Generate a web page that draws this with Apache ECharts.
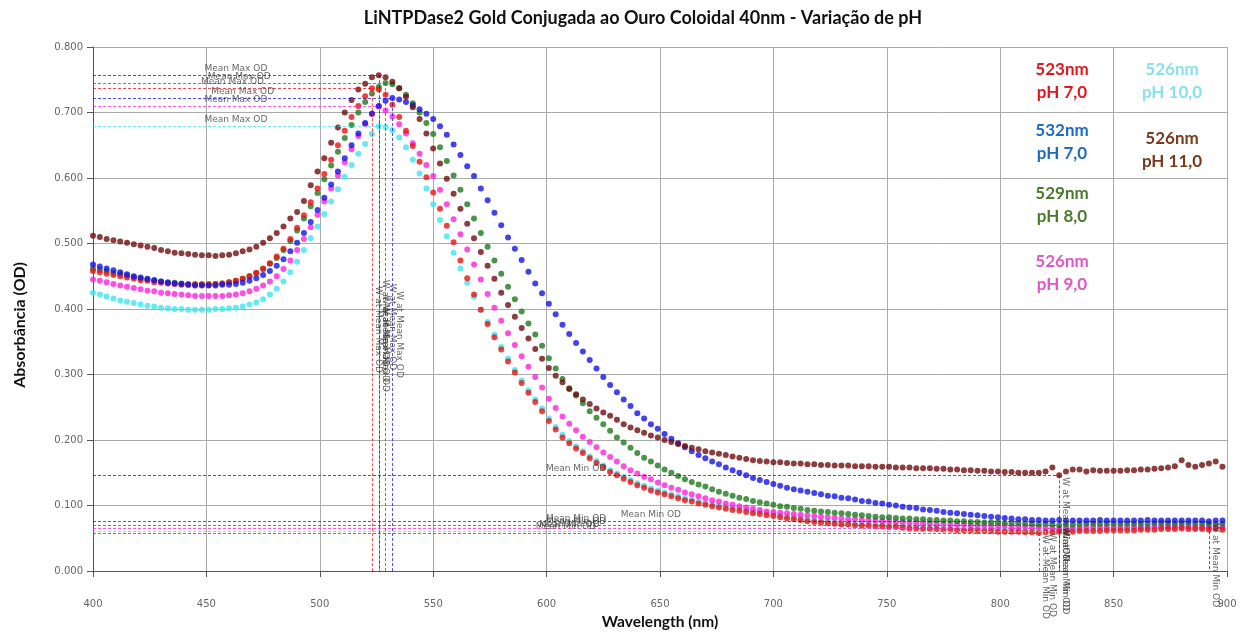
<!DOCTYPE html>
<html>
<head>
<meta charset="utf-8">
<script src="https://cdn.jsdelivr.net/npm/echarts@6/dist/echarts.min.js"></script>
<style>
html, body { margin: 0; padding: 0; background: #fff; }
#chart { width: 1247px; height: 635px; }
</style>
</head>
<body>
<div id="chart"></div>
<script>
// scan wavelengths (nm), 3 nm step
var wavelengths = [
    400,403,406,409,412,415,418,421,424,427,
    430,433,436,439,442,445,448,451,454,457,
    460,463,466,469,472,475,478,481,484,487,
    490,493,496,499,502,505,508,511,514,517,
    520,523,526,529,532,535,538,541,544,547,
    550,553,556,559,562,565,568,571,574,577,
    580,583,586,589,592,595,598,601,604,607,
    610,613,616,619,622,625,628,631,634,637,
    640,643,646,649,652,655,658,661,664,667,
    670,673,676,679,682,685,688,691,694,697,
    700,703,706,709,712,715,718,721,724,727,
    730,733,736,739,742,745,748,751,754,757,
    760,763,766,769,772,775,778,781,784,787,
    790,793,796,799,802,805,808,811,814,817,
    820,823,826,829,832,835,838,841,844,847,
    850,853,856,859,862,865,868,871,874,877,
    880,883,886,889,892,895,898
];

// absorbance, in mOD (1/1000 OD)
var ph7_523 = [
    458,456,454,452,450,448,446,444,443,441,
    440,439,438,437,437,437,437,437,438,439,
    441,443,446,450,455,462,470,480,492,507,
    524,543,563,584,606,628,650,672,693,710,
    725,737,735,727,712,693,672,649,625,601,
    578,553,527,502,474,447,422,399,377,357,
    338,320,303,287,272,258,244,229,216,204,
    195,187,180,172,165,158,151,146,141,136,
    131,127,123,120,117,114,111,108,106,103,
    101,99,97,95,93,92,90,88,87,85,
    84,82,80,79,78,76,75,74,73,72,
    71,71,70,69,69,68,68,67,67,66,
    65,65,64,64,64,63,63,62,62,62,
    61,61,61,60,60,60,60,59,59,58,
    59,59,60,60,60,61,61,61,61,62,
    62,62,62,62,63,63,63,64,64,64,
    65,64,64,64,63,64,63
];
var ph7_532 = [
    468,465,462,459,456,453,450,448,446,444,
    442,440,439,438,437,436,436,436,436,437,
    437,438,440,443,447,452,458,466,476,488,
    501,516,533,551,570,590,610,630,650,668,
    684,698,710,718,722,720,716,711,705,698,
    690,679,666,651,635,618,603,584,566,547,
    528,509,492,475,457,439,424,408,392,376,
    362,348,335,322,309,296,284,273,262,252,
    241,233,224,217,209,202,195,189,183,177,
    172,167,163,158,154,150,146,142,139,136,
    133,130,127,125,123,121,119,117,115,114,
    112,111,109,107,106,104,103,101,100,98,
    97,96,94,93,92,90,89,88,87,86,
    85,84,83,82,81,80,79,79,78,78,
    77,77,78,77,77,77,77,77,78,77,
    77,77,77,77,77,78,77,77,77,77,
    77,77,77,77,76,77,77
];
var ph8 = [
    462,460,458,455,453,451,449,447,445,444,
    442,441,440,439,438,438,438,438,438,439,
    441,443,446,450,455,461,469,478,490,504,
    520,538,557,577,598,619,640,661,681,700,
    716,729,739,745,743,737,727,714,700,684,
    667,647,626,604,582,560,538,516,495,474,
    454,434,415,396,378,361,344,325,309,293,
    279,268,256,244,234,224,214,204,196,188,
    180,173,167,161,155,150,145,140,136,132,
    129,125,121,118,115,112,110,107,105,103,
    101,99,98,96,95,93,92,91,90,89,
    88,87,86,85,84,83,82,82,81,80,
    80,79,79,78,78,77,77,76,76,75,
    75,74,74,74,73,73,73,72,72,71,
    72,71,70,71,71,71,72,72,72,72,
    72,72,72,72,72,72,73,73,73,72,
    73,73,72,72,72,72,72
];
var ph9 = [
    445,443,441,438,436,434,432,430,428,427,
    425,424,423,422,421,420,420,420,420,420,
    421,422,424,427,431,436,442,450,461,474,
    490,507,525,544,564,584,604,624,644,664,
    682,698,709,703,694,682,668,653,637,620,
    603,582,560,537,514,491,468,445,423,402,
    382,363,345,328,312,296,280,263,249,236,
    225,215,205,197,189,181,174,167,160,154,
    149,144,140,135,131,127,124,120,117,114,
    111,108,106,103,101,99,97,95,93,91,
    90,89,88,87,86,85,84,83,82,81,
    80,79,79,78,77,77,76,76,75,75,
    74,74,73,73,72,72,71,71,71,70,
    70,70,69,69,69,68,68,68,67,67,
    66,66,65,66,66,66,67,67,67,67,
    67,67,67,67,67,67,68,68,68,68,
    68,68,67,67,67,67,67
];
var ph10 = [
    425,422,419,416,413,411,409,407,405,404,
    402,401,400,400,399,399,399,399,400,400,
    401,402,404,407,410,415,422,431,442,456,
    472,490,508,526,545,564,583,602,620,637,
    652,667,679,678,673,662,647,628,607,584,
    560,536,511,486,462,440,419,399,380,361,
    342,324,307,291,276,262,248,233,220,208,
    198,190,183,175,168,161,154,149,144,139,
    134,130,126,123,120,117,114,111,109,106,
    104,102,100,98,96,95,93,91,90,88,
    87,85,83,82,81,79,78,77,76,75,
    74,74,73,72,72,71,71,70,70,69,
    68,68,67,67,67,66,66,65,65,65,
    64,64,64,63,63,63,63,62,62,62,
    61,62,62,63,63,63,64,64,64,64,
    65,65,65,65,65,66,66,66,66,66,
    67,66,66,66,66,66,66
];
var ph11 = [
    512,510,507,505,503,501,499,497,495,493,
    490,488,486,485,484,483,482,482,481,482,
    483,485,488,491,495,501,508,516,526,538,
    548,565,589,610,630,654,677,700,719,735,
    744,754,757,754,747,737,724,708,690,668,
    645,622,599,576,553,530,508,487,466,446,
    425,406,388,371,355,339,324,310,298,288,
    278,270,262,255,248,242,237,231,224,219,
    215,211,207,204,200,197,194,191,188,186,
    183,181,179,177,175,173,171,169,168,167,
    166,166,165,164,164,163,163,162,162,161,
    161,161,160,160,160,159,159,159,158,158,
    158,157,157,157,156,156,155,155,154,154,
    153,153,152,152,151,151,150,150,150,150,
    152,158,146,152,155,155,152,154,153,153,
    153,153,154,154,155,155,156,157,158,160,
    169,162,159,162,164,167,159
];

// legend cells: [line1, line2, colour, x, y]
var legendCells = [
    ['523nm', 'pH 7,0', '#e3161d', 1062, 70],
    ['526nm', 'pH 10,0', '#86e2f0', 1172, 70],
    ['532nm', 'pH 7,0', '#1e6bc0', 1062, 131],
    ['526nm', 'pH 11,0', '#7a3a1e', 1172, 139],
    ['529nm', 'pH 8,0', '#4b7a2c', 1062, 194],
    ['526nm', 'pH 9,0', '#e058c8', 1062, 262]
];

// draw order: first is at the bottom
var seriesDefs = [
    { name: '526nm pH 10,0', color: '#3fe3ef', vals: ph10 },
    { name: '526nm pH 9,0', color: '#ff22dd', vals: ph9 },
    { name: '529nm pH 8,0', color: '#1d7a1d', vals: ph8 },
    { name: '523nm pH 7,0', color: '#ec1111', vals: ph7_523 },
    { name: '532nm pH 7,0', color: '#1414e6', vals: ph7_532 },
    { name: '526nm pH 11,0', color: '#700d0d', vals: ph11 }
];

var labelFont = { fontFamily: 'DejaVu Sans', fontSize: 9, color: '#333' };

function markers(vals, color) {
    var max = -1, iMax = 0, min = 1e9, iMin = 0;
    vals.forEach(function (v, i) {
        if (v > max) { max = v; iMax = i; }
        if (v < min) { min = v; iMin = i; }
    });
    var yMax = max / 1000, xMax = wavelengths[iMax];
    var yMin = min / 1000, xMin = wavelengths[iMin];
    return {
        silent: true,
        symbol: 'none',
        animation: false,
        lineStyle: { color: color, type: [3, 2], width: 1, opacity: 0.75 },
        label: Object.assign({ show: true, distance: 2 }, labelFont),
        emphasis: { disabled: true },
        data: [
            [{ coord: [400, yMax], label: { formatter: 'Mean Max OD', position: 'insideMiddleTop' } }, { coord: [xMax, yMax] }],
            [{ coord: [xMax, yMax], label: { formatter: 'W at Mean Max OD', position: 'insideMiddleTop' } }, { coord: [xMax, 0] }],
            [{ coord: [400, yMin], label: { formatter: 'Mean Min OD', position: 'insideMiddleTop' } }, { coord: [xMin, yMin] }],
            [{ coord: [xMin, yMin], label: { formatter: 'W at Mean Min OD', position: 'insideStartTop' } }, { coord: [xMin, 0] }]
        ]
    };
}

var chart = echarts.init(document.getElementById('chart'), null, { renderer: 'canvas' });

var graphics = [
    {
        type: 'text', x: 643, y: 18,
        style: {
            text: 'LiNTPDase2 Gold Conjugada ao Ouro Coloidal 40nm - Variação de pH',
            font: 'bold 18px Lato', fill: '#111', textAlign: 'center', textVerticalAlign: 'middle'
        }
    },
    {
        type: 'text', x: 20, y: 325, rotation: Math.PI / 2,
        style: { text: 'Absorbância (OD)', font: 'bold 16px Lato', fill: '#111', textAlign: 'center', textVerticalAlign: 'middle' }
    }
];
legendCells.forEach(function (c) {
    graphics.push({
        type: 'text', x: c[3], y: c[4],
        style: { text: c[0], font: 'bold 17px Lato', fill: c[2], textAlign: 'center', textVerticalAlign: 'middle' }
    });
    graphics.push({
        type: 'text', x: c[3], y: c[4] + 23,
        style: { text: c[1], font: 'bold 17px Lato', fill: c[2], textAlign: 'center', textVerticalAlign: 'middle' }
    });
});

var option = {
    backgroundColor: '#fff',
    animation: false,
    grid: { left: 93, right: 20, top: 47, bottom: 62 },
    xAxis: {
        type: 'value', min: 400, max: 900, interval: 50,
        name: 'Wavelength (nm)', nameLocation: 'middle', nameGap: 43,
        nameTextStyle: { fontFamily: 'Lato', fontWeight: 'bold', fontSize: 15.5, color: '#111' },
        axisLine: { lineStyle: { color: '#555' } },
        axisTick: { show: true, length: 6, lineStyle: { color: '#555' } },
        axisLabel: { margin: 28, fontFamily: 'DejaVu Sans', fontSize: 10, color: '#666' },
        splitLine: { show: true, lineStyle: { color: '#ababab' } }
    },
    yAxis: {
        type: 'value', min: 0, max: 0.8, interval: 0.1,
        axisLine: { show: true, lineStyle: { color: '#555' } },
        axisTick: { show: true, length: 6, lineStyle: { color: '#555' } },
        axisLabel: {
            margin: 10, fontFamily: 'DejaVu Sans', fontSize: 10, color: '#666',
            formatter: function (v) { return v.toFixed(3); }
        },
        splitLine: { show: true, lineStyle: { color: '#ababab' } }
    },
    graphic: graphics,
    series: seriesDefs.map(function (s) {
        return {
            type: 'scatter',
            name: s.name,
            symbolSize: 6,
            itemStyle: { color: s.color },
            emphasis: { disabled: true },
            data: wavelengths.map(function (w, i) { return [w, s.vals[i] / 1000]; }),
            markLine: markers(s.vals, s.color)
        };
    })
};
chart.setOption(option);
</script>
</body>
</html>
